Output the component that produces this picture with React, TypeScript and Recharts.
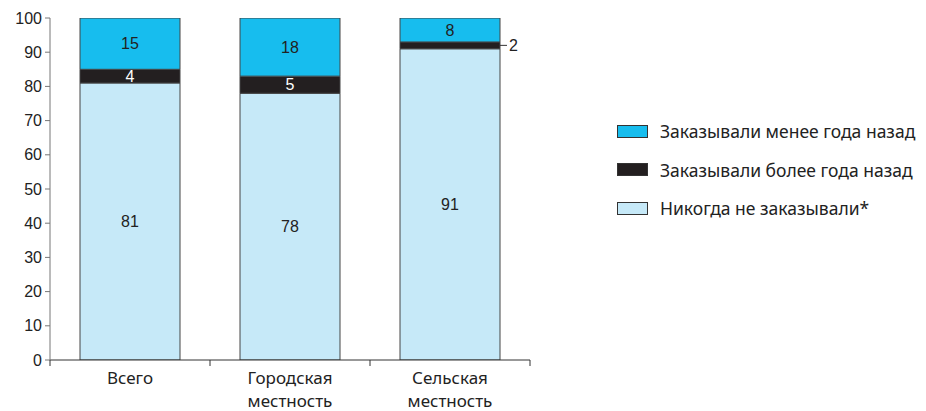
import React from 'react';
import { BarChart, Bar, XAxis, YAxis, LabelList } from 'recharts';

const categories = ['Всего', 'Городская\nместность', 'Сельская\nместность'];
const neverOrdered = [81, 78, 91];
const orderedOver = [4, 5, 2];
const orderedUnder = [15, 18, 8];
const yTicks = [0, 10, 20, 30, 40, 50, 60, 70, 80, 90, 100];

const seriesNames = {
  under: 'Заказывали менее года назад',
  over: 'Заказывали более года назад',
  never: 'Никогда не заказывали*',
};

const COLORS = { under: '#17bdee', over: '#231f20', never: '#c6e9f8' };
const FONT = '"Noto Sans", "DejaVu Sans", sans-serif';
const NUM_FONT = '"Liberation Sans", Arial, sans-serif';

const data = categories.map((name, i) => ({
  name,
  never: neverOrdered[i],
  over: orderedOver[i],
  under: orderedUnder[i],
}));

const CategoryTick = (props: any) => {
  const { x, y, payload, index, visibleTicksCount } = props;
  const half = payload.offset ?? 80;
  const lines = String(payload.value).split('\n');
  return (
    <g>
      <line x1={x - half} x2={x - half} y1={y - 8} y2={y - 2} stroke="#333" />
      {index === visibleTicksCount - 1 && (
        <line x1={x + half} x2={x + half} y1={y - 8} y2={y - 2} stroke="#333" />
      )}
      <text x={x} y={y + 16} textAnchor="middle" fontFamily={FONT} fontSize={17} fill="#222">
        {lines.map((l, i) => (
          <tspan key={i} x={x} dy={i === 0 ? 0 : 23}>
            {l}
          </tspan>
        ))}
      </text>
    </g>
  );
};

const makeLabel = (fill: string) => (props: any) => {
  const { x, y, width, height, value } = props;
  if (height < 10) {
    const cy = y + height / 2;
    return (
      <g>
        <line x1={x + width} x2={x + width + 7} y1={cy} y2={cy} stroke="#333" />
        <text x={x + width + 9} y={cy} dy="0.35em" fontFamily={NUM_FONT} fontSize={16} fill="#222">
          {value}
        </text>
      </g>
    );
  }
  return (
    <text
      x={x + width / 2}
      y={y + height / 2}
      dy="0.35em"
      textAnchor="middle"
      fontFamily={NUM_FONT}
      fontSize={16}
      fill={fill}
    >
      {value}
    </text>
  );
};

const legendOrder: (keyof typeof seriesNames)[] = ['under', 'over', 'never'];

const LegendBox = () => (
  <div
    style={{
      position: 'absolute',
      left: 609,
      top: 104,
      fontFamily: FONT,
      fontSize: 17.5,
      color: '#222',
    }}
  >
    {legendOrder.map((k) => (
      <div key={k} style={{ display: 'flex', alignItems: 'center', height: 38.5, whiteSpace: 'nowrap' }}>
        <span
          style={{
            display: 'inline-block',
            width: 29,
            height: 11,
            background: COLORS[k],
            border: '1px solid #333',
            marginRight: 12,
          }}
        />
        <span>{seriesNames[k]}</span>
      </div>
    ))}
  </div>
);

export default function App() {
  return (
    <div style={{ position: 'relative', width: 918, height: 403 }}>
      <BarChart
        width={910}
        height={403}
        data={data}
        margin={{ top: 10, right: 388, left: 0, bottom: 0 }}
        barCategoryGap={30}
        style={{ overflow: 'visible' }}
      >
        <XAxis
          dataKey="name"
          height={51}
          tick={<CategoryTick />}
          tickLine={false}
          axisLine={{ stroke: '#333' }}
          interval={0}
        />
        <YAxis
          width={42}
          domain={[0, 100]}
          ticks={yTicks}
          allowDataOverflow
          interval={0}
          tickSize={5}
          tickMargin={3}
          axisLine={{ stroke: '#777' }}
          tickLine={{ stroke: '#777' }}
          tick={{ fontFamily: NUM_FONT, fontSize: 16, fill: '#222' }}
        />
        <Bar dataKey="never" name={seriesNames.never} stackId="a" fill={COLORS.never} stroke="#444" isAnimationActive={false}>
          <LabelList dataKey="never" content={makeLabel('#222')} />
        </Bar>
        <Bar dataKey="over" name={seriesNames.over} stackId="a" fill={COLORS.over} stroke="#444" isAnimationActive={false}>
          <LabelList dataKey="over" content={makeLabel('#fff')} />
        </Bar>
        <Bar dataKey="under" name={seriesNames.under} stackId="a" fill={COLORS.under} stroke="#444" isAnimationActive={false}>
          <LabelList dataKey="under" content={makeLabel('#222')} />
        </Bar>
      </BarChart>
      <LegendBox />
    </div>
  );
}
